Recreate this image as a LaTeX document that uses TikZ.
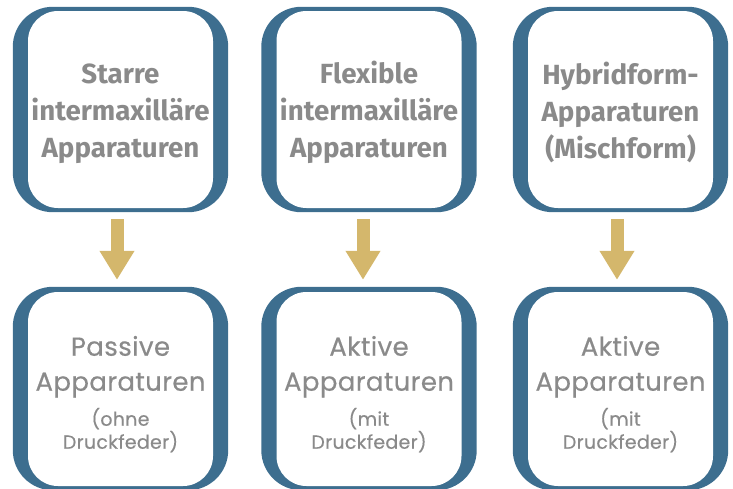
\documentclass[tikz,border=0pt]{standalone}
\usepackage{fontspec}
\setmainfont{Fira Sans}
\newfontfamily\popfont[LetterSpace=1.5,FakeBold=0.35]{Poppins}
\usetikzlibrary{arrows.meta,backgrounds}
\definecolor{cardblue}{HTML}{3D6E8F}
\definecolor{arrgold}{HTML}{D4B76C}
\definecolor{txtgray}{HTML}{8A8A8A}
\newcommand{\smalltxt}{\fontsize{19}{24}\selectfont}
\newcommand{\topstrut}{\rule{0pt}{29pt}}
\newcommand{\botstrut}{\rule{0pt}{30pt}}
\begin{document}
\begin{tikzpicture}[x=1pt,y=-1pt,
  card/.style={fill=white, rounded corners=30pt, minimum width=185pt, inner sep=0pt, text=txtgray, align=center},
  topcard/.style={card, minimum height=197pt, font=\bfseries\fontsize{27.7}{37}\selectfont},
  botcard/.style={card, minimum height=194pt, font=\popfont\fontsize{26}{35}\selectfont},
  back/.style={fill=cardblue, rounded corners=40pt},
  arr/.style={draw=arrgold, line width=13pt, -{Triangle[width=33pt,length=29pt]}}]
\useasboundingbox (0,0) rectangle (733,488);
\clip (0,0) rectangle (733,488);
\node[topcard] (t1) at (120.5,109.5) {\topstrut Starre\\intermaxilläre\\Apparaturen};
\node[topcard] (t2) at (369,109.5) {\topstrut Flexible\\intermaxilläre\\Apparaturen};
\node[topcard] (t3) at (620.5,109.5) {\topstrut Hybridform-\\Apparaturen\\(Mischform)};
\node[botcard] (b1) at (120.5,389) {\botstrut Passive\\Apparaturen\\[0pt]{\smalltxt (ohne}\\[-12pt]{\smalltxt Druckfeder)}};
\node[botcard] (b2) at (369,389) {\botstrut Aktive\\Apparaturen\\[0pt]{\smalltxt (mit}\\[-12pt]{\smalltxt Druckfeder)}};
\node[botcard] (b3) at (620.5,389) {\botstrut Aktive\\Apparaturen\\[0pt]{\smalltxt (mit}\\[-12pt]{\smalltxt Druckfeder)}};
\begin{scope}[on background layer]
  \foreach \n in {t1,t2,t3}
    \fill[back] ([xshift=-15pt,yshift=4pt]\n.north west) rectangle ([xshift=15pt,yshift=-4pt]\n.south east);
  \foreach \n in {b1,b2,b3}
    \fill[back] ([xshift=-15pt,yshift=5pt]\n.north west) rectangle ([xshift=15pt,yshift=-4pt]\n.south east);
\end{scope}
\draw[arr] ([xshift=-3.5pt,yshift=-11pt]t1.south) -- ([xshift=-3.5pt,yshift=12pt]b1.north);
\draw[arr] ([xshift=-6pt,yshift=-11pt]t2.south) -- ([xshift=-6pt,yshift=12pt]b2.north);
\draw[arr] ([xshift=-3.5pt,yshift=-11pt]t3.south) -- ([xshift=-3.5pt,yshift=12pt]b3.north);
\end{tikzpicture}
\end{document}
